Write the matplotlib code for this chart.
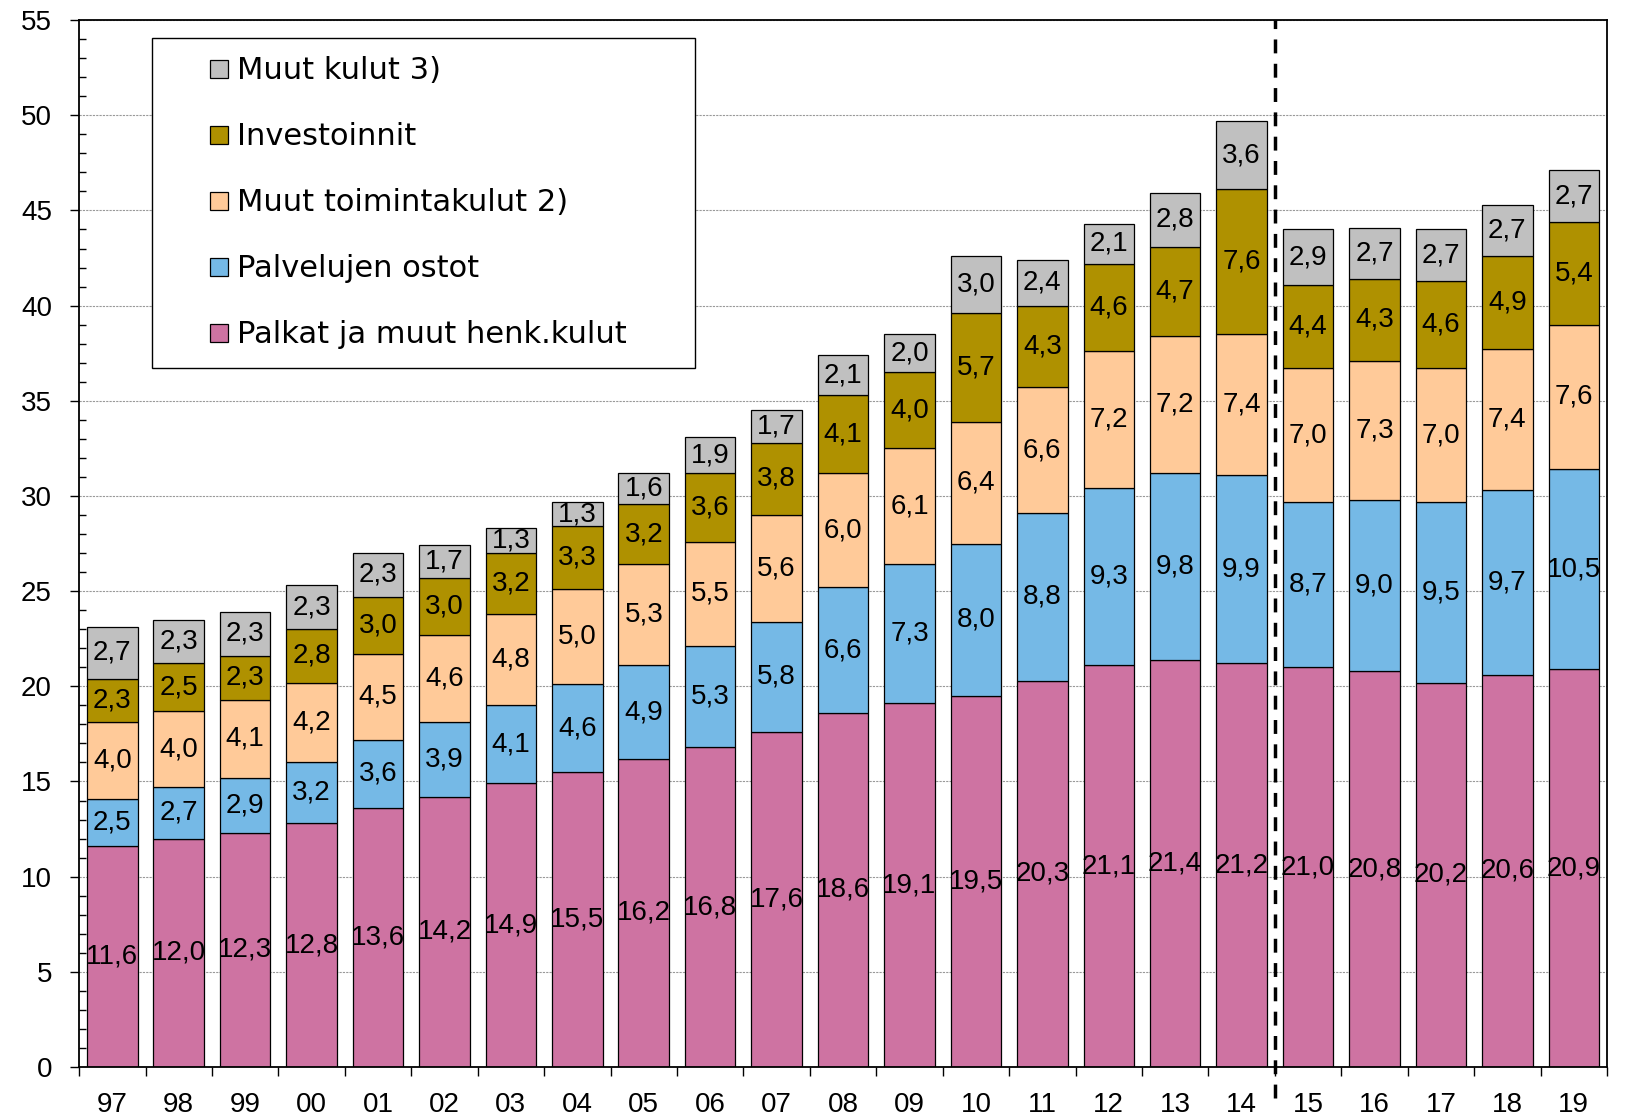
import matplotlib
matplotlib.use("Agg")
import matplotlib.pyplot as plt
import numpy as np
from matplotlib.patches import Rectangle
from matplotlib.legend_handler import HandlerPatch
from matplotlib.ticker import MultipleLocator, FixedLocator, NullFormatter, FixedFormatter

years = ["97", "98", "99", "00", "01", "02", "03", "04", "05", "06", "07", "08",
         "09", "10", "11", "12", "13", "14", "15", "16", "17", "18", "19"]
palkat = [11.6, 12.0, 12.3, 12.8, 13.6, 14.2, 14.9, 15.5, 16.2, 16.8, 17.6, 18.6,
          19.1, 19.5, 20.3, 21.1, 21.4, 21.2, 21.0, 20.8, 20.2, 20.6, 20.9]
palvelut = [2.5, 2.7, 2.9, 3.2, 3.6, 3.9, 4.1, 4.6, 4.9, 5.3, 5.8, 6.6,
            7.3, 8.0, 8.8, 9.3, 9.8, 9.9, 8.7, 9.0, 9.5, 9.7, 10.5]
toimintakulut = [4.0, 4.0, 4.1, 4.2, 4.5, 4.6, 4.8, 5.0, 5.3, 5.5, 5.6, 6.0,
                 6.1, 6.4, 6.6, 7.2, 7.2, 7.4, 7.0, 7.3, 7.0, 7.4, 7.6]
investoinnit = [2.3, 2.5, 2.3, 2.8, 3.0, 3.0, 3.2, 3.3, 3.2, 3.6, 3.8, 4.1,
                4.0, 5.7, 4.3, 4.6, 4.7, 7.6, 4.4, 4.3, 4.6, 4.9, 5.4]
muut_kulut = [2.7, 2.3, 2.3, 2.3, 2.3, 1.7, 1.3, 1.3, 1.6, 1.9, 1.7, 2.1,
              2.0, 3.0, 2.4, 2.1, 2.8, 3.6, 2.9, 2.7, 2.7, 2.7, 2.7]

series = [
    ("Palkat ja muut henk.kulut", palkat, "#CE73A2"),
    ("Palvelujen ostot", palvelut, "#75B9E6"),
    ("Muut toimintakulut 2)", toimintakulut, "#FFCA99"),
    ("Investoinnit", investoinnit, "#AF9100"),
    ("Muut kulut 3)", muut_kulut, "#C0C0C0"),
]

TICKFONT = "Liberation Sans"
LABELFONT = "Liberation Sans"
LEGENDFONT = "DejaVu Sans"

fig = plt.figure(figsize=(16.27, 11.16), dpi=100)
ax = fig.add_axes([0.0486, 0.0439, 0.9391, 0.9381])

x = np.arange(len(years))
bottom = np.zeros(len(years))
handles = []
for name, vals, color in series:
    vals = np.array(vals)
    bars = ax.bar(x, vals, width=0.76, bottom=bottom, color=color,
                  edgecolor="black", linewidth=0.9, label=name, zorder=2)
    handles.append(bars)
    for xi, b, v in zip(x, bottom, vals):
        ax.text(xi, b + v / 2, f"{v:.1f}".replace(".", ","), ha="center", va="center",
                fontsize=20, family=LABELFONT, color="black", zorder=3)
    bottom = bottom + vals

ax.set_xlim(-0.5, len(years) - 0.5)
ax.set_ylim(0, 55)

# y axis
ax.yaxis.set_major_locator(MultipleLocator(5))
ax.yaxis.set_minor_locator(MultipleLocator(1))
ax.tick_params(axis="y", which="major", direction="out", length=6.5, width=1,
               labelsize=20, pad=13)
ax.tick_params(axis="y", which="minor", direction="in", length=5, width=1)
for lab in ax.get_yticklabels():
    lab.set_family(TICKFONT)

# x axis: ticks at boundaries, labels at centers
ax.xaxis.set_major_locator(FixedLocator(np.arange(-0.5, len(years), 1.0)))
ax.xaxis.set_major_formatter(NullFormatter())
ax.xaxis.set_minor_locator(FixedLocator(x))
ax.xaxis.set_minor_formatter(FixedFormatter(years))
ax.tick_params(axis="x", which="major", direction="out", length=6.5, width=1)
ax.tick_params(axis="x", which="minor", length=0, labelsize=20, pad=18)
for lab in ax.get_xticklabels(minor=True):
    lab.set_family(TICKFONT)

for s in ax.spines.values():
    s.set_linewidth(1.3)
    s.set_color("black")

ax.yaxis.grid(True, which="major", linestyle=(0, (2, 1)), color="#999999",
              linewidth=0.8, zorder=0)
ax.set_axisbelow(True)

# forecast separator
ax.axvline(17.5, ymin=-0.03, ymax=1.0, color="black", linestyle=(0, (4, 3)),
           linewidth=2.5, clip_on=False, zorder=4)


def square_at_right(legend, orig_handle, xdescent, ydescent, width, height, fontsize):
    s = 0.59 * fontsize
    return Rectangle((-xdescent + width - s, -ydescent + (height - s) / 2), s, s)


class SquareHandler(HandlerPatch):
    def __init__(self):
        super().__init__(patch_func=square_at_right)


legend_handles = [h.patches[0] for h in handles[::-1]]
leg = ax.legend(handles=legend_handles, labels=[s[0] for s in series][::-1],
                loc="upper left", bbox_to_anchor=(0.0478, 0.0, 0.3553, 0.9828),
                mode="expand",
                fancybox=False, framealpha=1, edgecolor="black",
                prop={"family": LEGENDFONT, "size": 22},
                handler_map={Rectangle: SquareHandler()},
                handlelength=1.9, handleheight=0.7, handletextpad=0.29,
                labelspacing=1.21, borderpad=0.6, borderaxespad=0)
leg.get_frame().set_linewidth(1.0)
leg.set_zorder(5)

fig.savefig("out.png", dpi=100)
